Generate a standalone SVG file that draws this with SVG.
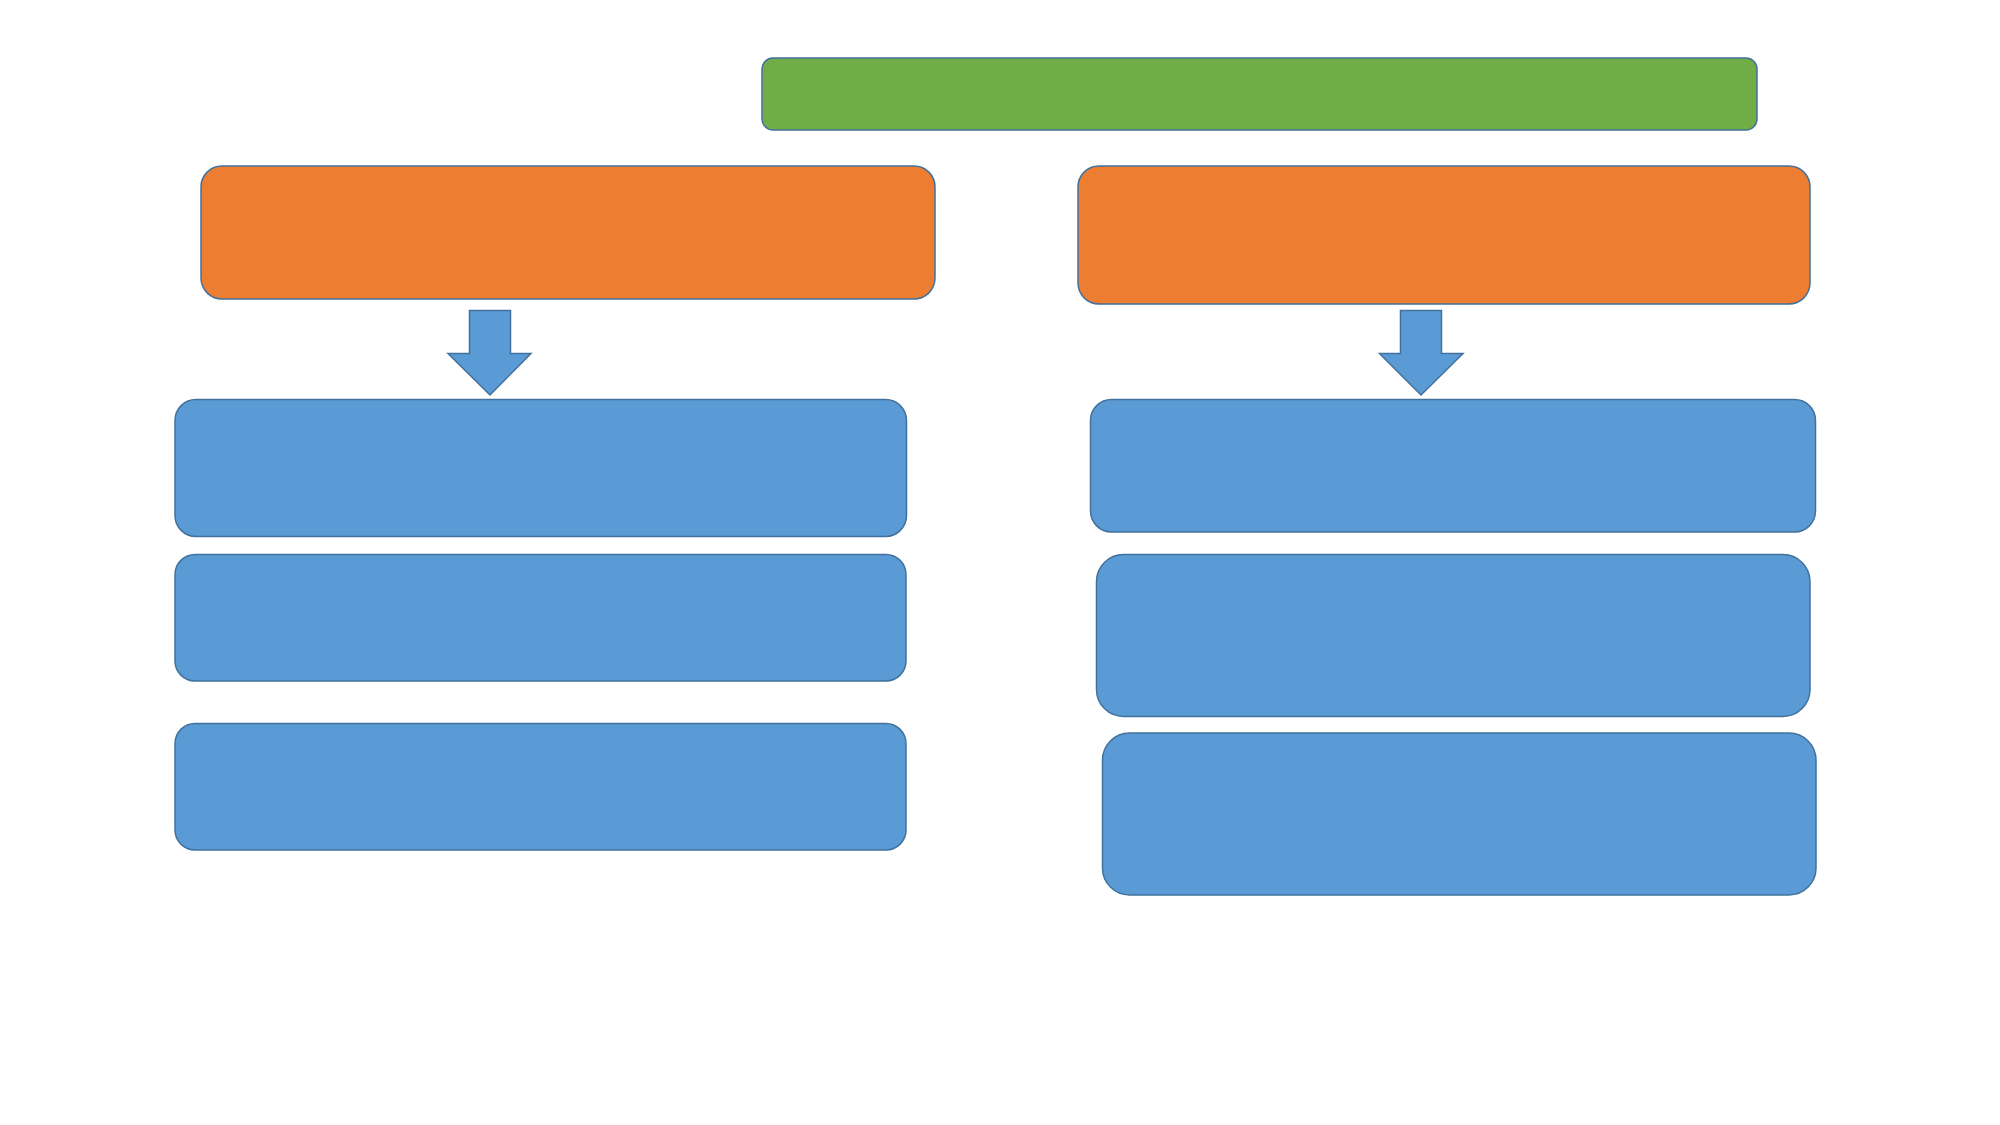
<svg xmlns="http://www.w3.org/2000/svg" width="2000" height="1125" viewBox="0 0 2000 1125">
<style>
.g{fill:#70AD47;stroke:#41719C;stroke-width:1.5}
.o{fill:#ED7D31;stroke:#41719C;stroke-width:1.5}
.b{fill:#5B9BD5;stroke:#41719C;stroke-width:1.5}
</style>
<rect width="2000" height="1125" fill="#FFFFFF"/>
<g id="title"><rect class="g" x="762" y="58" width="995" height="72" rx="11"/></g>
<g id="left-head"><rect class="o" x="201" y="166" width="734" height="133" rx="21"/></g>
<g id="right-head"><rect class="o" x="1078" y="166" width="732" height="138" rx="21"/></g>
<g id="connectors">
<polygon class="b" points="469.5,310.5 510.5,310.5 510.5,353.5 531,353.5 490,395 448,353.5 469.5,353.5"/>
<polygon class="b" points="1400.5,310.5 1441.5,310.5 1441.5,353.5 1463,353.5 1421,395 1379.5,353.5 1400.5,353.5"/>
</g>
<g id="left-1"><rect class="b" x="175" y="399.5" width="731.5" height="137" rx="21"/></g>
<g id="left-2"><rect class="b" x="175" y="554.5" width="731" height="126.5" rx="20"/></g>
<g id="left-3"><rect class="b" x="175" y="723.5" width="731" height="126.5" rx="20"/></g>
<g id="right-1"><rect class="b" x="1090.5" y="399.5" width="725" height="132.5" rx="21"/></g>
<g id="right-2"><rect class="b" x="1096.5" y="554.5" width="713.5" height="162" rx="27"/></g>
<g id="right-3"><rect class="b" x="1102.5" y="733" width="713.5" height="162" rx="27"/></g>
</svg>
